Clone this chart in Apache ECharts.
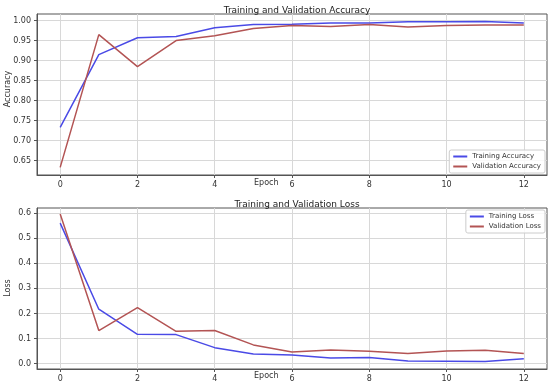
<!DOCTYPE html>
<html><head><meta charset="utf-8">
<script src="https://cdn.jsdelivr.net/npm/echarts@6/dist/echarts.min.js"></script>
<style>html,body{margin:0;padding:0;background:#fff}#c{width:550px;height:385px}</style>
</head><body><div id="c"></div>
<script>
var epochs = [0,1,2,3,4,5,6,7,8,9,10,11,12];
var trainAcc = [0.733,0.915,0.957,0.960,0.982,0.990,0.991,0.994,0.994,0.997,0.997,0.998,0.994];
var valAcc = [0.633,0.965,0.885,0.950,0.962,0.980,0.988,0.985,0.990,0.984,0.988,0.989,0.989];
var trainLoss = [0.560,0.217,0.117,0.116,0.064,0.039,0.035,0.023,0.025,0.011,0.010,0.009,0.020];
var valLoss = [0.596,0.132,0.223,0.129,0.132,0.075,0.047,0.055,0.050,0.041,0.051,0.054,0.041];
var xTicks = [0,2,4,6,8,10,12];
var accTicks = [0.65,0.70,0.75,0.80,0.85,0.90,0.95,1.00];
var lossTicks = [0.0,0.1,0.2,0.3,0.4,0.5,0.6];

var blue = '#4a4ae6', red = '#b35454';
var font = 'DejaVu Sans';
function pairs(ys){ return epochs.map(function(e,i){return [e, ys[i]];}); }
function xAxis(gi){
  return {type:'value', gridIndex:gi, min:-0.6, max:12.6, position:'bottom',
    axisLine:{show:true, onZero:false, lineStyle:{color:'#555', width:1}},
    axisTick:{show:true, length:3, lineStyle:{color:'#555'}, customValues:xTicks},
    axisLabel:{customValues:xTicks, fontFamily:font, fontSize:8, color:'#333', margin:6},
    splitLine:{show:true, lineStyle:{color:'#d8d8d8', width:1}}};
}
function yAxis(gi, mn, mx, ticks, dec){
  return {type:'value', gridIndex:gi, min:mn, max:mx, position:'left',
    axisLine:{show:true, onZero:false, lineStyle:{color:'#555', width:1}},
    axisTick:{show:true, length:3, lineStyle:{color:'#555'}, customValues:ticks},
    axisLabel:{customValues:ticks, fontFamily:font, fontSize:8, color:'#333', margin:6,
      formatter:function(v){return v.toFixed(dec);}},
    splitLine:{show:true, lineStyle:{color:'#d8d8d8', width:1}}};
}
function line(name, data, color, xi, yi){
  return {name:name, type:'line', xAxisIndex:xi, yAxisIndex:yi, data:pairs(data), showSymbol:false,
    symbol:'none', lineStyle:{color:color, width:1.5}, itemStyle:{color:color}, animation:false};
}
var chart = echarts.init(document.getElementById('c'), null, {renderer:'canvas'});
chart.setOption({
  animation:false,
  grid:[
    {left:37, top:14, width:510, height:161, show:true, borderColor:'#555', borderWidth:1},
    {left:37, top:208, width:510, height:161, show:true, borderColor:'#555', borderWidth:1}
  ],
  title:[
    {text:'Training and Validation Accuracy', left:292, top:1, textAlign:'center',
      textStyle:{fontFamily:font, fontSize:9, fontWeight:'normal', color:'#222'}},
    {text:'Training and Validation Loss', left:292, top:195, textAlign:'center',
      textStyle:{fontFamily:font, fontSize:9, fontWeight:'normal', color:'#222'}}
  ],
  legend:[
    {data:['Training Accuracy','Validation Accuracy'], orient:'vertical', right:5, top:150,
      itemWidth:14, itemHeight:2, itemGap:3, icon:'rect', padding:[3,4,3,4],
      backgroundColor:'rgba(255,255,255,0.85)', borderColor:'#ccc', borderWidth:1, borderRadius:2,
      textStyle:{fontFamily:font, fontSize:7, color:'#333'}},
    {data:['Training Loss','Validation Loss'], orient:'vertical', right:5, top:210,
      itemWidth:14, itemHeight:2, itemGap:3, icon:'rect', padding:[3,4,3,4],
      backgroundColor:'rgba(255,255,255,0.85)', borderColor:'#ccc', borderWidth:1, borderRadius:2,
      textStyle:{fontFamily:font, fontSize:7, color:'#333'}}
  ],
  xAxis:[xAxis(0), xAxis(1)],
  yAxis:[yAxis(0,0.614,1.0165,accTicks,2), yAxis(1,-0.021,0.62,lossTicks,1)],
  series:[
    line('Training Accuracy', trainAcc, blue, 0, 0),
    line('Validation Accuracy', valAcc, red, 0, 0),
    line('Training Loss', trainLoss, blue, 1, 1),
    line('Validation Loss', valLoss, red, 1, 1)
  ],
  graphic:[
    {type:'text', left:254, top:179, style:{text:'Epoch', font:'8px "DejaVu Sans"', fill:'#333'}},
    {type:'text', left:254, top:372, style:{text:'Epoch', font:'8px "DejaVu Sans"', fill:'#333'}},
    {type:'text', x:4, y:89, rotation:Math.PI/2, style:{text:'Accuracy', font:'8px "DejaVu Sans"', fill:'#333', align:'center', verticalAlign:'top'}},
    {type:'text', x:4, y:288, rotation:Math.PI/2, style:{text:'Loss', font:'8px "DejaVu Sans"', fill:'#333', align:'center', verticalAlign:'top'}}
  ]
});
</script></body></html>
